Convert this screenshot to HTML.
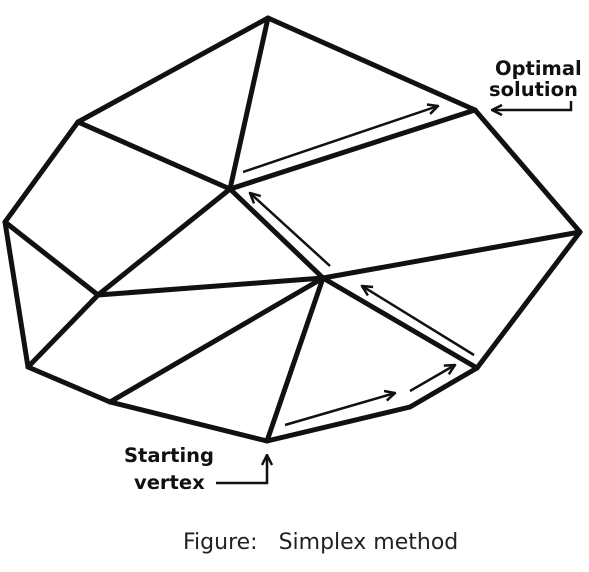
<!DOCTYPE html>
<html><head><meta charset="utf-8"><style>
html,body{margin:0;padding:0;background:#fff;}
svg{display:block;}
.lbl{font-family:"DejaVu Sans","Liberation Sans",sans-serif;font-weight:bold;fill:#111;font-size:19.5px;}
.cap{font-family:"DejaVu Sans","Liberation Sans",sans-serif;fill:#222;font-size:22px;}
</style></head><body>
<svg width="589" height="572" viewBox="0 0 589 572">
<defs>
<marker id="ah" viewBox="0 0 10 10" refX="9" refY="5" markerWidth="5" markerHeight="5" orient="auto"><path d="M1,1 L9,5 L1,9" fill="none" stroke="#111" stroke-width="2"/></marker>
</defs>
<g id="edges" stroke="#111" stroke-width="5" stroke-linecap="round" stroke-linejoin="round" fill="none"></g>
<g stroke="#111" stroke-width="2.5" fill="none" marker-end="url(#ah)">
<line x1="243" y1="172" x2="438" y2="106"/>
<line x1="330" y1="266" x2="250" y2="193"/>
<line x1="474" y1="355" x2="362" y2="286"/>
<line x1="285" y1="425" x2="395" y2="393"/>
<line x1="410" y1="391" x2="455" y2="365"/>
</g>
<g stroke="#111" stroke-width="2.5" fill="none">
<polyline points="571,101 571,110 492,110" marker-end="url(#ah)"/>
<polyline points="216,483 267,483 267,455" marker-end="url(#ah)"/>
</g>
<text class="lbl" x="495" y="75">Optimal</text>
<text class="lbl" x="489" y="96">solution</text>
<text class="lbl" x="124" y="462">Starting</text>
<text class="lbl" x="134" y="489">vertex</text>
<text class="cap" x="183" y="549" xml:space="preserve">Figure:   Simplex method</text>
</svg>
<script>
const vertexNames=["A","B","C","D","E","F","G","H","I","J","K","L","M"];
const vertexX=[268,475,580,477,410,267,110,28,5,78,230,323,98];
const vertexY=[18,110,232,368,407,441,402,367,222,122,189,278,295];
const edgeList=[["A","B"],["B","C"],["C","D"],["D","E"],["E","F"],["F","G"],["G","H"],["H","I"],["I","J"],["J","A"],
["A","K"],["J","K"],["K","B"],["K","L"],["L","C"],["L","D"],["L","F"],["L","G"],["L","M"],["K","M"],["I","M"],["M","H"]];
const g=document.getElementById('edges');
const idx=n=>vertexNames.indexOf(n);
edgeList.forEach(e=>{
 const a=idx(e[0]),b=idx(e[1]);
 const l=document.createElementNS('http://www.w3.org/2000/svg','line');
 l.setAttribute('x1',vertexX[a]);l.setAttribute('y1',vertexY[a]);
 l.setAttribute('x2',vertexX[b]);l.setAttribute('y2',vertexY[b]);
 
 
 g.appendChild(l);
});
</script>
</body></html>
